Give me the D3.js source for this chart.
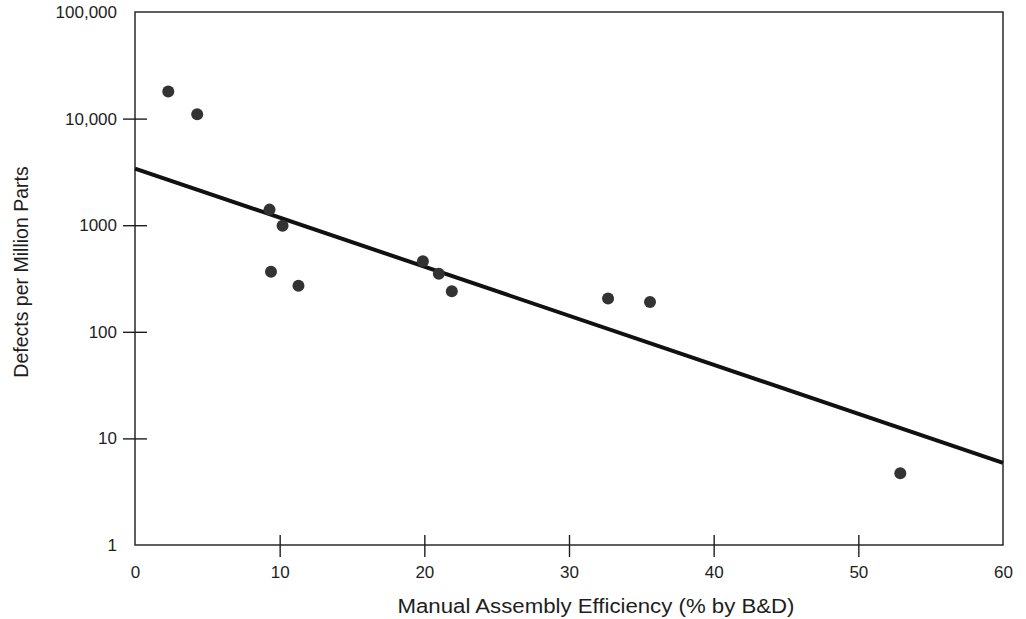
<!DOCTYPE html>
<html>
<head>
<meta charset="utf-8">
<script src="https://cdn.jsdelivr.net/npm/d3@7"></script>
<style>
  html, body { margin: 0; padding: 0; background: #fff; }
  svg { display: block; }
  text { font-family: "Liberation Sans", Arial, Helvetica, sans-serif; fill: #1e1e1e; }
</style>
</head>
<body>
<svg id="chart" width="1026" height="619"></svg>
<script>
// ---- data ----
const efficiency = [2.3, 4.3, 9.3, 10.2, 9.4, 11.3, 19.9, 21.0, 21.9, 32.7, 35.6, 52.9];
const defects    = [18000, 11000, 1400, 990, 365, 270, 460, 350, 240, 205, 190, 4.7];
const fitX = [0, 60];
const fitY = [3400, 5.9];
const xTicks = [0, 10, 20, 30, 40, 50, 60];
const yTicks = [1, 10, 100, 1000, 10000, 100000];
const yTickLabels = ["1", "10", "100", "1000", "10,000", "100,000"];
const xTitle = "Manual Assembly Efficiency (% by B&D)";
const yTitle = "Defects per Million Parts";

// ---- layout ----
const L = 135, R = 1003, T = 12, B = 545;
const svg = d3.select("#chart");
const x = d3.scaleLinear().domain([0, 60]).range([L, R]);
const y = d3.scaleLog().domain([1, 100000]).range([B, T]);
const ink = "#1e1e1e";

// frame
svg.append("rect")
  .attr("x", L).attr("y", T).attr("width", R - L).attr("height", B - T)
  .attr("fill", "none").attr("stroke", "#2a2a2a").attr("stroke-width", 1.5);

// y axis (ticks crossing the frame)
const yAxis = d3.axisLeft(y)
  .tickValues(yTicks)
  .tickFormat((d, i) => yTickLabels[i])
  .tickSize(24).tickPadding(6);
const gy = svg.append("g").attr("transform", `translate(${L + 12},0)`).call(yAxis);
gy.select(".domain").remove();
gy.selectAll(".tick line")
  .attr("stroke", ink).attr("stroke-width", 1.4)
  .filter(d => d === 1 || d === 100000).remove();
gy.selectAll(".tick text")
  .attr("font-size", 17).attr("fill", ink)
  .attr("font-family", "Liberation Sans, Arial, sans-serif");

// x axis
const xAxis = d3.axisBottom(x)
  .tickValues(xTicks)
  .tickFormat(d3.format("d"))
  .tickSize(22).tickPadding(9);
const gx = svg.append("g").attr("transform", `translate(0,${B - 10})`).call(xAxis);
gx.select(".domain").remove();
gx.selectAll(".tick line")
  .attr("stroke", ink).attr("stroke-width", 1.4)
  .filter(d => d === 0 || d === 60).remove();
gx.selectAll(".tick text")
  .attr("font-size", 17).attr("fill", ink)
  .attr("font-family", "Liberation Sans, Arial, sans-serif");

// regression line
const line = d3.line().x(d => x(d[0])).y(d => y(d[1]));
svg.append("path")
  .datum(fitX.map((v, i) => [v, fitY[i]]))
  .attr("d", line)
  .attr("fill", "none").attr("stroke", "#111").attr("stroke-width", 4);

// points
svg.append("g").selectAll("circle")
  .data(efficiency.map((v, i) => [v, defects[i]]))
  .join("circle")
  .attr("cx", d => x(d[0])).attr("cy", d => y(d[1]))
  .attr("r", 6).attr("fill", "#333");

// titles
svg.append("text")
  .attr("x", (L + R) / 2 + 27).attr("y", 613)
  .attr("text-anchor", "middle")
  .attr("font-size", 20)
  .attr("textLength", 397).attr("lengthAdjust", "spacingAndGlyphs")
  .text(xTitle);

svg.append("text")
  .attr("transform", `translate(28,272) rotate(-90)`)
  .attr("text-anchor", "middle")
  .attr("font-size", 19.5)
  .text(yTitle);
</script>
</body>
</html>
